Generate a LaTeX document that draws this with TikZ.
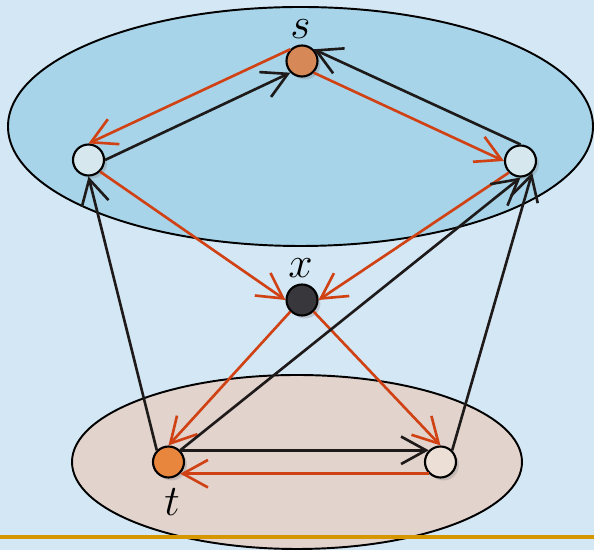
\documentclass[tikz,border=0pt]{standalone}
\usepackage{xcolor}
\usepackage{tikz}
\usetikzlibrary{arrows.meta,positioning,shadows}

\definecolor{bgblue}{RGB}{212,231,245}
\definecolor{topfill}{RGB}{168,212,233}
\definecolor{botfill}{RGB}{226,211,204}
\definecolor{redge}{RGB}{208,66,20}
\definecolor{kedge}{RGB}{30,26,26}
\definecolor{sfill}{RGB}{214,136,86}
\definecolor{tfill}{RGB}{232,134,62}
\definecolor{xfill}{RGB}{56,56,60}
\definecolor{palebl}{RGB}{214,231,238}
\definecolor{palebr}{RGB}{236,224,214}
\definecolor{rulecol}{RGB}{214,150,0}

\begin{document}
\begin{tikzpicture}[
  vtx/.style={circle, draw, line width=1.2pt, minimum size=0.62cm, inner sep=0pt,
    drop shadow={opacity=0.3, shadow xshift=0.6mm, shadow yshift=-0.6mm}},
  lbl/.style={inner sep=0pt, font=\Huge},
  blob/.style={draw, line width=1.1pt},
  redarr/.style={-{Straight Barb[length=5mm,width=5.5mm]}, line width=1.5pt, draw=redge},
  blkarr/.style={-{Straight Barb[length=5mm,width=5.5mm]}, line width=1.5pt, draw=kedge},
]
  \fill[bgblue] (0,0) rectangle (11.88,11);
  \useasboundingbox (0,0) rectangle (11.88,11);
  % the two groups
  \draw[blob, fill=topfill] (6.01,8.47) ellipse [x radius=5.85cm, y radius=2.39cm];
  \draw[blob, fill=botfill] (5.94,1.76) ellipse [x radius=4.5cm, y radius=1.74cm];
  \fill[rulecol] (0,0.22) rectangle (11.88,0.30);
  % vertices
  \node[vtx, fill=sfill] (s) at (6.04,9.78) {};
  \node[vtx, fill=palebl] (L) at (1.77,7.8) {};
  \node[vtx, fill=palebl] (R) at (10.41,7.78) {};
  \node[vtx, fill=xfill] (x) at (6.04,5.0) {};
  \node[vtx, fill=tfill] (t) at (3.37,1.76) {};
  \node[vtx, fill=palebr] (B) at (8.81,1.76) {};
  \node[lbl, above=0.12cm of s, xshift=-0.03cm] (slab) {$s$};
  \node[lbl, above=0.12cm of x, xshift=-0.03cm] (xlab) {$x$};
  \node[lbl, below=0.2cm of t, xshift=0.07cm] (tlab) {$t$};
  % edges
  \draw[blkarr] (L.east) -- (s.south west);
  \draw[redarr] (s.north west) -- (L.north);
  \draw[blkarr] (R.north) -- (s.north east);
  \draw[redarr] (s.south east) -- (R.west);
  \draw[redarr] (L.south east) -- (x.west);
  \draw[redarr] (R.south west) -- (x.east);
  \draw[redarr] (x.south west) -- (t.north);
  \draw[redarr] (x.south east) -- (B.north);
  \draw[blkarr] (t.north west) -- (L.south);
  \draw[blkarr] (t.north east) -- (R.south);
  \draw[blkarr] (B.north east) -- (R.south east);
  \draw[blkarr] (t.north east) -- (B.north west);
  \draw[redarr] (B.south west) -- (t.south east);
\end{tikzpicture}
\end{document}
